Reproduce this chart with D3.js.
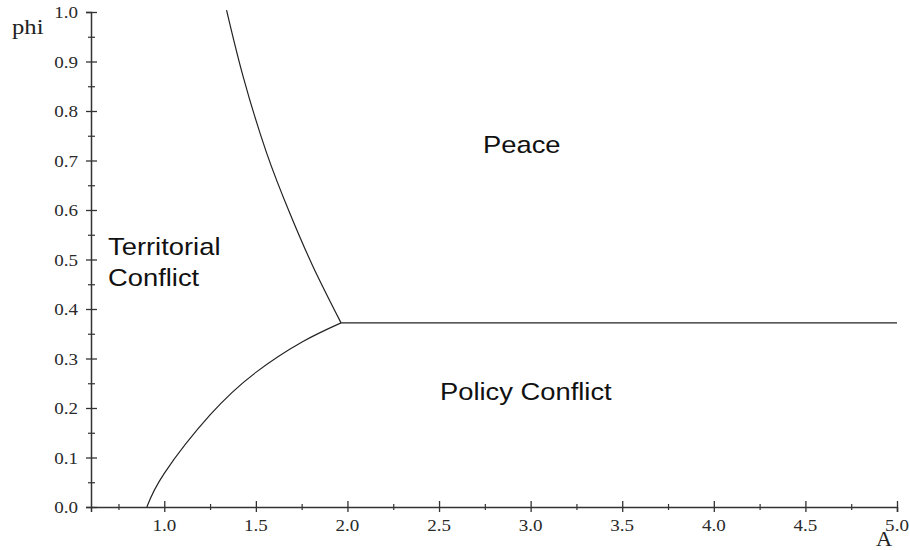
<!DOCTYPE html>
<html>
<head>
<meta charset="utf-8">
<script src="https://cdn.jsdelivr.net/npm/d3@7"></script>
<style>
  body { margin: 0; background: #fff; }
  svg { display: block; }
</style>
</head>
<body>
<svg id="chart" width="910" height="550"></svg>
<script>
// Boundary curves (A on x, phi on y)
const upperBoundary = [
  [1.34, 1.004], [1.431, 0.869], [1.559, 0.715], [1.686, 0.593],
  [1.813, 0.485], [1.965, 0.372]
];
const lowerBoundary = [
  [0.905, 0.0], [1.0, 0.068], [1.25, 0.186], [1.5, 0.272],
  [1.75, 0.333], [1.965, 0.372]
];
const flatBoundary = [[1.965, 0.372], [5.0, 0.372]];

const xMajorTicks = [1.0, 1.5, 2.0, 2.5, 3.0, 3.5, 4.0, 4.5, 5.0];
const xMinorTicks = [0.75, 1.25, 1.75, 2.25, 2.75, 3.25, 3.75, 4.25, 4.75];
const yMajorTicks = [0.0, 0.1, 0.2, 0.3, 0.4, 0.5, 0.6, 0.7, 0.8, 0.9, 1.0];
const yMinorTicks = [0.05, 0.15, 0.25, 0.35, 0.45, 0.55, 0.65, 0.75, 0.85, 0.95];

const regionLabels = [
  { lines: ['Peace'], x: 2.74, y: 0.715 },
  { lines: ['Territorial', 'Conflict'], x: 0.693, y: 0.509 },
  { lines: ['Policy Conflict'], x: 2.505, y: 0.216 }
];

const width = 910, height = 550;
const margin = { top: 12, right: 13, bottom: 43, left: 91 };
const stretch = 1.14; // the source picture is a little wider than tall

const svg = d3.select('#chart');

const x = d3.scaleLinear().domain([0.6, 5.0]).range([margin.left, width - margin.right]);
const y = d3.scaleLinear().domain([0, 1]).range([height - margin.bottom, margin.top]);

const axisColor = '#333';
const serif = '"Liberation Serif", "DejaVu Serif", serif';

// x axis
const xAxis = svg.append('g')
  .attr('transform', `translate(0,${y(0)})`)
  .call(d3.axisBottom(x).tickValues(xMajorTicks).tickSize(5).tickFormat(''));
xAxis.select('.domain').attr('stroke', axisColor).attr('stroke-width', 1.5);
xAxis.selectAll('.tick line').attr('y1', -6).attr('stroke', axisColor).attr('stroke-width', 1.3);

svg.append('g')
  .attr('transform', `translate(0,${y(0)})`)
  .call(d3.axisBottom(x).tickValues(xMinorTicks).tickSize(3).tickFormat(''))
  .call(g => g.select('.domain').remove())
  .call(g => g.selectAll('.tick line').attr('y1', -3).attr('stroke', axisColor).attr('stroke-width', 1.2));

svg.append('g').selectAll('text')
  .data(xMajorTicks)
  .join('text')
  .attr('transform', d => `translate(${x(d)},531) scale(1.12,1)`)
  .attr('text-anchor', 'middle')
  .attr('font-family', serif)
  .attr('font-size', 17)
  .attr('fill', '#2a2a2a')
  .text(d3.format('.1f'));

// y axis
const yAxis = svg.append('g')
  .attr('transform', `translate(${x(0.6)},0)`)
  .call(d3.axisLeft(y).tickValues(yMajorTicks).tickSize(5).tickFormat(''));
yAxis.select('.domain').attr('stroke', axisColor).attr('stroke-width', 1.5);
yAxis.selectAll('.tick line').attr('x1', 6).attr('stroke', axisColor).attr('stroke-width', 1.3);

svg.append('g')
  .attr('transform', `translate(${x(0.6)},0)`)
  .call(d3.axisLeft(y).tickValues(yMinorTicks).tickSize(3).tickFormat(''))
  .call(g => g.select('.domain').remove())
  .call(g => g.selectAll('.tick line').attr('x1', 4).attr('stroke', axisColor).attr('stroke-width', 1.2));

svg.append('g').selectAll('text')
  .data(yMajorTicks)
  .join('text')
  .attr('transform', d => `translate(${x(0.6) - 13},${y(d) + 6}) scale(1.12,1)`)
  .attr('text-anchor', 'end')
  .attr('font-family', serif)
  .attr('font-size', 17)
  .attr('fill', '#2a2a2a')
  .text(d3.format('.1f'));

// axis titles
svg.append('text')
  .attr('transform', `translate(12,34) scale(1.12,1)`)
  .attr('font-family', serif)
  .attr('font-size', 22)
  .attr('fill', '#222')
  .text('phi');

svg.append('text')
  .attr('transform', `translate(884,546) scale(1.12,1)`)
  .attr('text-anchor', 'middle')
  .attr('font-family', serif)
  .attr('font-size', 20)
  .attr('fill', '#222')
  .text('A');

// boundaries
const line = d3.line().x(d => x(d[0])).y(d => y(d[1])).curve(d3.curveNatural);

[upperBoundary, lowerBoundary, flatBoundary].forEach(pts => {
  svg.append('path')
    .datum(pts)
    .attr('d', line)
    .attr('fill', 'none')
    .attr('stroke', '#222')
    .attr('stroke-width', 1.2);
});

// region labels
regionLabels.forEach(lbl => {
  const t = svg.append('text')
    .attr('transform', `translate(${x(lbl.x)},${y(lbl.y)}) scale(${stretch},1)`)
    .attr('font-family', '"Liberation Sans", Arial, sans-serif')
    .attr('font-size', 24)
    .attr('fill', '#111');
  lbl.lines.forEach((s, i) => {
    t.append('tspan').attr('x', 0).attr('dy', i === 0 ? 0 : 31).text(s);
  });
});
</script>
</body>
</html>
